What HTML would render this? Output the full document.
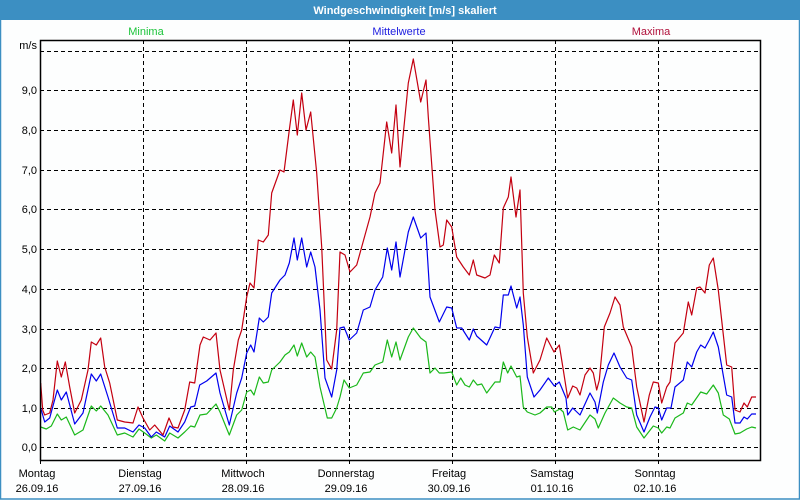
<!DOCTYPE html>
<html><head><meta charset="utf-8"><style>
html,body{margin:0;padding:0;background:#fff}
svg{display:block}
text{font-family:"Liberation Sans",sans-serif;font-size:11px}
</style></head><body>
<svg width="800" height="500" viewBox="0 0 800 500" xmlns="http://www.w3.org/2000/svg">
<rect x="0" y="0" width="800" height="500" fill="#fdfefe"/>
<rect x="0.5" y="0.5" width="799" height="498.5" fill="none" stroke="#3c8fc2" stroke-width="1.5"/>
<rect x="0" y="0" width="800" height="20" fill="#3c8fc2"/>
<text x="405" y="14" text-anchor="middle" fill="#fff" font-weight="bold">Windgeschwindigkeit [m/s] skaliert</text>
<text x="146" y="35" text-anchor="middle" fill="#1bc43a" font-size="10">Minima</text>
<text x="399" y="35" text-anchor="middle" fill="#2020e0" font-size="10">Mittelwerte</text>
<text x="651" y="35" text-anchor="middle" fill="#b0103a" font-size="10">Maxima</text>
<text x="37" y="49" text-anchor="end" fill="#000" font-size="10">m/s</text>
<g stroke="#000" stroke-width="1" stroke-dasharray="4,3" fill="none">
<path d="M40 51.5H760M40 90.5H760M40 130.5H760M40 170.5H760M40 209.5H760M40 249.5H760M40 289.5H760M40 329.5H760M40 368.5H760M40 408.5H760M40 447.5H760"/>
<path d="M143.5 40V460M246.5 40V460M349.5 40V460M452.5 40V460M555.5 40V460M658.5 40V460"/>
</g>
<g fill="#000" text-anchor="end" font-size="10">
<text x="37" y="94">9,0</text><text x="37" y="134">8,0</text><text x="37" y="174">7,0</text><text x="37" y="213">6,0</text><text x="37" y="253">5,0</text><text x="37" y="293">4,0</text><text x="37" y="333">3,0</text><text x="37" y="372">2,0</text><text x="37" y="412">1,0</text><text x="37" y="451">0,0</text>
</g>
<g fill="none" stroke-width="1.2" stroke-linejoin="round">
<polyline stroke="#1bb81b" points="40.7,427 46.3,429 51.3,426 57.3,414 61.3,420 66.3,417 74.7,435 83,430 91.3,406 96.3,411 100.7,406 108,415 117.3,435 124.7,433 133,437 139,429 144.7,433 151.3,438 156.3,435 164.7,441 169.7,433 178,438 184.7,432 190.7,426 194.7,427 200,415 206.7,414 216,404 220,412 229.3,435 236.7,415 241.7,410 246.7,392 250.7,390 254,395 259.3,377 263.3,383 268.3,382 271.7,370 280,362 285,355 289.3,352 294,345 297.3,356 301.7,343 306.7,357 310.7,352 315,357 320,387 327.3,418 331.7,418 336.7,408 340,397 344,380 349.3,388 356.7,385 363.3,373 370,372 375,365 382.7,362 387.3,340 391.7,357 396,342 400,360 408.3,337 413.3,328 420.7,338 426,342 430,373 435,368 439.3,373 444,373 451.7,372 456.7,385 460.7,378 465,385 469.3,387 473.3,380 477.3,385 481.7,384 486.7,393 495,382 500,382 503.3,362 507.7,373 511,366 516.7,377 520,376 523.3,407 527.3,412 535,415 540,413 546.7,407 551.7,407 554.3,412 560,409 563.3,412 567.7,430 573.3,427 580,430 590,415 595,419 598.3,428 605,413 613.3,398 620,403 626.7,407 631.7,408 636.7,427 644,438 653.3,426 658.3,428 661.7,433 666.7,427 670,428 675,418 683.3,413 687.3,403 691.7,405 700.7,392 706.7,394 713.3,385 718.3,393 723.3,415 729.3,419 735,434 740,433 746.7,429 751.7,427 756,428"/>
<polyline stroke="#0000ee" points="40.7,408 44.7,422 49.7,418 57.3,390 61.3,400 66.3,392 74.7,424 83,413 91.3,374 96.3,381 100.7,374 108,397 117.3,428 124.7,428 133,432 139,425 144.7,428 151.3,437 156.3,432 164.7,437 169.7,426 178,432 184.7,422 190.7,407 194.7,406 199.7,385 206.7,381 216,373 220,393 229.3,425 236.7,393 241.7,378 246.7,353 250.7,345 254,352 259.3,318 263.3,322 268.3,317 271.7,293 280,280 285,275 289.3,263 294,238 297.3,260 301.7,238 306.7,267 310.7,252 315,267 320,310 325,378 331.7,397 336.7,370 340,328 344,327 349.3,340 356.7,333 363.3,310 370,307 375,290 382.7,277 387.3,248 391.7,270 396,242 400,277 408.3,232 413.3,217 420.7,238 426,233 430,297 439.3,322 446.7,307 451.7,308 456.7,328 461.7,328 469.3,340 473.3,329 476.7,336 486.7,345 495,327 500,328 503.3,295 508.3,295 511,286 516.7,308 520,297 523.3,325 527.3,377 534,397 540,390 548.3,378 554.3,386 559.3,382 566,398 567.7,415 572.7,408 580,415 590,393 595,402 597.3,413 603.3,382 608.3,365 614,353 620,367 626.7,378 631.7,380 636.7,415 644,432 650,417 655,407 658.3,408 661.7,420 666.7,408 671,408 675,387 683.3,380 687.3,362 691.7,367 696.7,352 700.7,345 705,348 709.3,340 713.3,332 718.3,347 726.7,395 731.7,397 735,423 740,423 744,417 747.3,419 751.7,414 756,414"/>
<polyline stroke="#c40010" points="40.7,383 42.7,410 44.7,415 49.7,413 53,400 57.3,361 61.3,377 65.3,362 69.7,387 74.7,413 81.3,400 88,370 91.3,342 96.3,345 100.7,338 104.7,367 109.7,383 117.3,420 124.7,422 133,423 138,407 143,418 149.7,430 154.7,425 163,435 169,418 173,427 178,428 184.7,410 189.7,382 194.7,383 200,345 203.3,337 210,340 216,333 220,370 229.3,410 233.3,370 238.3,340 241.7,330 246.7,297 250,283 254,288 258.3,240 263.3,242 268.3,235 271.7,193 280,170 284,172 289.3,130 293.3,100 297.3,135 301.7,93 306,130 310.7,112 316.7,173 321.7,247 326.7,360 331.7,369 336.7,330 340,252 345,255 350,272 356.7,265 361.7,247 370,217 375,193 380,183 386.7,122 391.7,153 396,105 400,167 408.3,83 413.3,59 420.7,102 426,80 428.3,117 435,210 440,247 443.3,245 446.7,220 451.7,227 456.7,257 463.3,267 469.3,275 473.3,260 476.7,275 485,278 490,275 494.3,255 499.3,263 503.3,208 508.3,197 511,177 516,217 520,190 523.3,293 527.3,337 533.3,373 540,360 546.7,338 554,352 559.3,345 563.3,370 567.7,398 572.7,386 576.7,388 580,395 585,375 590,368 593.3,373 596.7,390 599.3,380 604.3,327 610,313 615,297 620,305 623.3,327 631.7,347 636.7,387 644,422 649.3,395 653.3,382 658.3,383 661.7,403 666.7,387 670,382 675,343 683.3,333 688.3,302 691.7,315 696.7,288 700,287 705,293 709.3,265 713.3,258 718.3,290 726.7,365 731.7,367 735,410 740,412 744,403 747.3,407 751.7,397 756,397"/>
</g>
<rect x="40.5" y="40.5" width="720" height="420" fill="none" stroke="#000" stroke-width="1.5"/>
<path d="M40.5 460V464M143.5 460V464M246.5 460V464M349.5 460V464M452.5 460V464M555.5 460V464M658.5 460V464" stroke="#000"/>
<g fill="#000" text-anchor="middle" font-size="10">
<text x="37" y="477">Montag</text><text x="37" y="492">26.09.16</text>
<text x="140" y="477">Dienstag</text><text x="140" y="492">27.09.16</text>
<text x="243" y="477">Mittwoch</text><text x="243" y="492">28.09.16</text>
<text x="346" y="477">Donnerstag</text><text x="346" y="492">29.09.16</text>
<text x="449" y="477">Freitag</text><text x="449" y="492">30.09.16</text>
<text x="552" y="477">Samstag</text><text x="552" y="492">01.10.16</text>
<text x="655" y="477">Sonntag</text><text x="655" y="492">02.10.16</text>
</g>
</svg>
</body></html>
